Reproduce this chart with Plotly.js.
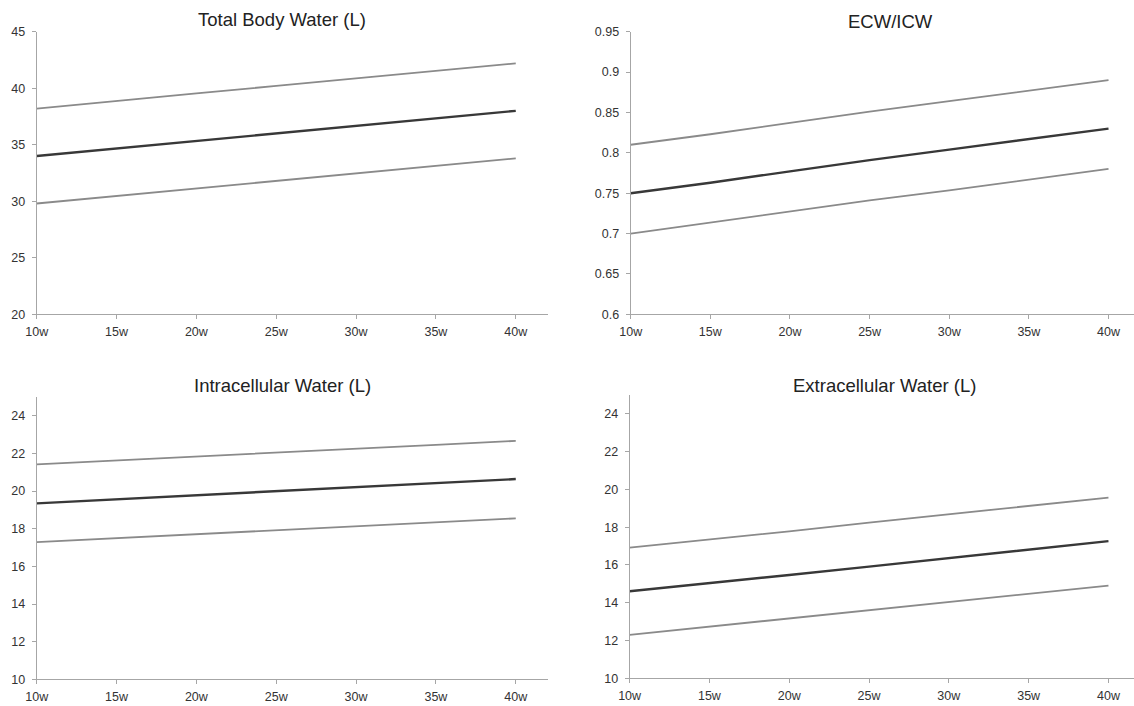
<!DOCTYPE html>
<html>
<head>
<meta charset="utf-8">
<script src="https://cdn.plot.ly/plotly-3.0.1.min.js"></script>
<style>
  html, body { margin: 0; padding: 0; background: #fff; }
  #chart { width: 1134px; height: 706px; }
</style>
</head>
<body>
<div id="chart"></div>
<script>
// ---- data ----
const weeks = [10, 15, 20, 25, 30, 35, 40];
const weekLabels = ['10w', '15w', '20w', '25w', '30w', '35w', '40w'];

const panelTitles = ['Total Body Water (L)', 'ECW/ICW', 'Intracellular Water (L)', 'Extracellular Water (L)'];

const tbwUpper = [38.2, 38.9, 39.55, 40.2, 40.85, 41.5, 42.2];
const tbwMean  = [34.0, 34.67, 35.33, 36.0, 36.67, 37.33, 38.0];
const tbwLower = [29.8, 30.47, 31.14, 31.8, 32.47, 33.15, 33.8];

const ratioUpper = [0.81, 0.823, 0.837, 0.851, 0.864, 0.877, 0.89];
const ratioMean  = [0.75, 0.763, 0.777, 0.791, 0.804, 0.817, 0.83];
const ratioLower = [0.70, 0.7135, 0.727, 0.741, 0.7535, 0.767, 0.78];

const icwUpper = [21.42, 21.62, 21.82, 22.04, 22.25, 22.46, 22.67];
const icwMean  = [19.35, 19.57, 19.79, 20.0, 20.21, 20.43, 20.64];
const icwLower = [17.29, 17.5, 17.72, 17.92, 18.14, 18.34, 18.55];

const ecwUpper = [16.92, 17.34, 17.78, 18.24, 18.69, 19.13, 19.57];
const ecwMean  = [14.61, 15.03, 15.47, 15.91, 16.37, 16.81, 17.26];
const ecwLower = [12.3, 12.74, 13.18, 13.6, 14.04, 14.48, 14.91];

// ---- styling ----
const W = 1134, H = 706;
const boundColor = '#8a8a8a', meanColor = '#383838';
const boundWidth = 1.8, meanWidth = 2.4;
const font = 'Liberation Sans, Arial, sans-serif';

const panels = [
  {up: tbwUpper, mid: tbwMean, lo: tbwLower, xa: 'x', ya: 'y'},
  {up: ratioUpper, mid: ratioMean, lo: ratioLower, xa: 'x2', ya: 'y2'},
  {up: icwUpper, mid: icwMean, lo: icwLower, xa: 'x3', ya: 'y3'},
  {up: ecwUpper, mid: ecwMean, lo: ecwLower, xa: 'x4', ya: 'y4'}
];

const traces = [];
panels.forEach(p => {
  [[p.up, boundColor, boundWidth], [p.lo, boundColor, boundWidth], [p.mid, meanColor, meanWidth]].forEach(([ys, c, w]) => {
    traces.push({
      x: weeks, y: ys, xaxis: p.xa, yaxis: p.ya,
      type: 'scatter', mode: 'lines',
      line: {color: c, width: w},
      hoverinfo: 'skip', showlegend: false
    });
  });
});

function xAxis(domainPx, rangeMax, anchor) {
  return {
    domain: [domainPx[0] / W, domainPx[1] / W],
    range: [10, rangeMax], anchor: anchor,
    tickmode: 'array', tickvals: weeks, ticktext: weekLabels,
    showgrid: false, zeroline: false,
    showline: true, linecolor: '#a6a6a6', linewidth: 1,
    ticks: 'outside', ticklen: 4, tickcolor: '#a6a6a6', tickwidth: 1,
    tickfont: {family: font, size: 12.5, color: '#333333'},
    ticklabelstandoff: 2,
    fixedrange: true
  };
}
function yAxis(domainPx, range, dtick, anchor) {
  return {
    domain: [(H - domainPx[1]) / H, (H - domainPx[0]) / H],
    range: range, anchor: anchor,
    tick0: range[0], dtick: dtick,
    showgrid: false, zeroline: false,
    showline: true, linecolor: '#a6a6a6', linewidth: 1,
    ticks: 'outside', ticklen: 4, tickcolor: '#a6a6a6', tickwidth: 1,
    tickfont: {family: font, size: 12.5, color: '#333333'},
    ticklabelstandoff: 4,
    fixedrange: true
  };
}

const titlePos = [[282, 20], [890, 22], [282, 385], [884, 385]];

const layout = {
  width: W, height: H,
  margin: {l: 0, r: 0, t: 0, b: 0, pad: 0},
  paper_bgcolor: '#ffffff', plot_bgcolor: '#ffffff',
  showlegend: false,
  xaxis:  xAxis([36.7, 547.7], 42, 'y'),
  yaxis:  yAxis([31.7, 314.3], [20, 45], 5, 'x'),
  xaxis2: xAxis([630.7, 1134], 41.6, 'y2'),
  yaxis2: yAxis([31.7, 314.3], [0.6, 0.95], 0.05, 'x2'),
  xaxis3: xAxis([36.7, 547.7], 42, 'y3'),
  yaxis3: yAxis([397.0, 679.3], [10, 25], 2, 'x3'),
  xaxis4: xAxis([629.6, 1134], 41.6, 'y4'),
  yaxis4: yAxis([395.0, 678.3], [10, 25], 2, 'x4'),
  annotations: panelTitles.map((t, i) => ({
    text: t, xref: 'paper', yref: 'paper',
    x: titlePos[i][0] / W, y: (H - titlePos[i][1]) / H,
    xanchor: 'center', yanchor: 'middle', showarrow: false,
    font: {family: font, size: 18.5, color: '#222222'}
  }))
};

Plotly.newPlot('chart', traces, layout, {displayModeBar: false, staticPlot: true});
</script>
</body>
</html>
